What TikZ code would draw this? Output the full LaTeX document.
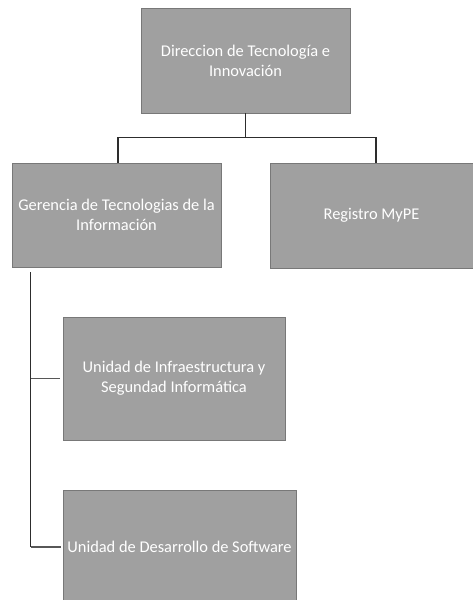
\documentclass[tikz,border=0pt]{standalone}
\usepackage{fontspec}
\setmainfont{Carlito}
\usetikzlibrary{positioning}
\definecolor{boxgray}{RGB}{160,160,160}
\definecolor{boxedge}{RGB}{120,120,120}
\definecolor{linkgray}{RGB}{45,45,45}
\tikzset{
    unitbox/.style={draw=boxedge, line width=0.8pt, fill=boxgray, text=white,
        inner sep=0pt, align=center,
        font=\fontsize{16.4}{20}\selectfont},
    link/.style={draw=linkgray, line width=1.4pt},
    sublink/.style={draw=linkgray!80, line width=1.2pt}
}
\begin{document}
\begin{tikzpicture}[x=1pt, y=-1pt]
        \useasboundingbox[fill=white] (0,0) rectangle (473,600);

        % direccion
        \node[unitbox, minimum width=209pt, minimum height=105pt] (dir) at (245.5,60.5)
            {Direccion de Tecnología e\\Innovación};

        % segundo nivel
        \node[unitbox, minimum width=209pt, minimum height=104pt] (ger) at (116.5,215)
            {Gerencia de Tecnologias de la\\Información};
        \node[unitbox, minimum width=203pt, minimum height=105pt] (reg) at (371.5,215.5)
            {Registro MyPE};

        % unidades
        \node[unitbox, minimum width=222pt, minimum height=123pt] (infra) at (174,378.5)
            {Unidad de Infraestructura y\\Segundad Informática};
        \node[unitbox, minimum width=233pt, minimum height=114pt] (soft) at (179.5,547)
            {Unidad de Desarrollo de Software};

        % conectores
        \draw[link] (dir.south) -- ++(0,24) coordinate (bus);
        \draw[link] ([xshift=1.5pt]ger.north) |- (bus) -| ([xshift=4.5pt]reg.north);
        \draw[link] ([xshift=19pt,yshift=-5pt]ger.south west) -- ([xshift=19pt]ger.south west |- soft.west) coordinate (spine);
        \draw[sublink] ([xshift=19pt]ger.south west |- infra.west) -- ([xshift=-3pt]infra.west);
        \draw[sublink] (spine) -- ([xshift=-2pt]soft.west);

\end{tikzpicture}
\end{document}
